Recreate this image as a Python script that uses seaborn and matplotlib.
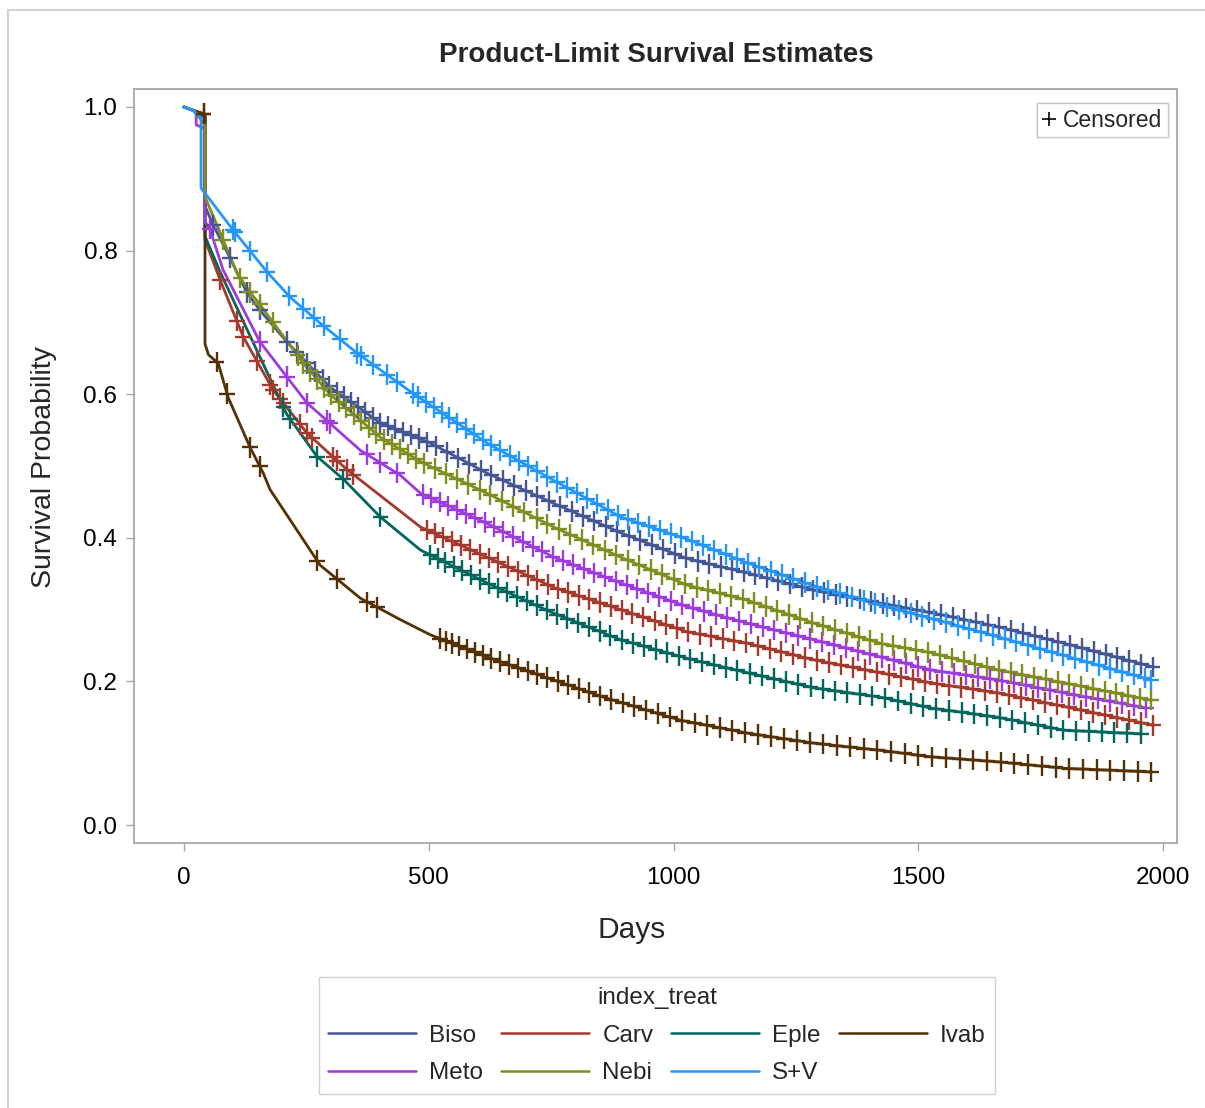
import numpy as np
import pandas as pd
import matplotlib
matplotlib.use("Agg")
import matplotlib.pyplot as plt
import seaborn as sns
from matplotlib.lines import Line2D
from matplotlib.path import Path

# data (days, survival) per treatment
treats = ["Biso", "Carv", "Eple", "Ivab", "Meto", "Nebi", "S+V"]
colors = ["#445694", "#A23A2E", "#01665E", "#543005", "#9D3CDB", "#7F8E1F", "#2597FA"]

biso_days = [0, 20, 43, 43, 60, 94, 128, 155, 210, 298, 401, 503, 619, 755, 892, 1028, 1151, 1287, 1423, 1546, 1663, 1798, 1980]
biso_surv = [1.0, 0.995, 0.985, 0.862, 0.835, 0.79, 0.742, 0.717, 0.673, 0.61, 0.56, 0.532, 0.49, 0.448, 0.407, 0.371, 0.351, 0.327, 0.309, 0.293, 0.276, 0.253, 0.22]

carv_days = [0, 20, 43, 43, 74, 121, 182, 251, 333, 483, 619, 755, 892, 1028, 1151, 1287, 1423, 1525, 1663, 1798, 1980]
carv_surv = [1.0, 0.995, 0.99, 0.815, 0.759, 0.68, 0.606, 0.546, 0.495, 0.415, 0.373, 0.331, 0.30, 0.269, 0.253, 0.23, 0.212, 0.198, 0.184, 0.165, 0.139]

eple_days = [0, 20, 43, 43, 74, 129, 210, 272, 325, 401, 483, 619, 755, 892, 1028, 1151, 1287, 1423, 1525, 1663, 1798, 1955]
eple_surv = [1.0, 0.995, 0.985, 0.82, 0.77, 0.69, 0.572, 0.513, 0.482, 0.429, 0.383, 0.337, 0.295, 0.258, 0.232, 0.212, 0.191, 0.178, 0.163, 0.15, 0.132, 0.127]

ivab_days = [0, 20, 43, 43, 50, 70, 90, 135, 162, 176, 278, 360, 442, 503, 619, 755, 857, 1014, 1151, 1287, 1423, 1525, 1663, 1798, 1975]
ivab_surv = [1.0, 0.995, 0.99, 0.67, 0.655, 0.643, 0.596, 0.526, 0.49, 0.467, 0.362, 0.316, 0.286, 0.265, 0.234, 0.202, 0.178, 0.146, 0.128, 0.114, 0.104, 0.095, 0.088, 0.079, 0.074]

meto_days = [0, 20, 25, 25, 43, 43, 53, 80, 155, 251, 360, 442, 483, 619, 755, 892, 1028, 1151, 1287, 1423, 1525, 1663, 1798, 1965]
meto_surv = [1.0, 0.995, 0.99, 0.975, 0.97, 0.84, 0.83, 0.773, 0.673, 0.588, 0.522, 0.487, 0.462, 0.42, 0.373, 0.337, 0.304, 0.281, 0.258, 0.234, 0.216, 0.202, 0.184, 0.163]

nebi_days = [0, 20, 43, 43, 80, 108, 135, 155, 182, 244, 298, 401, 483, 619, 755, 892, 1028, 1151, 1287, 1423, 1525, 1663, 1798, 1975]
nebi_surv = [1.0, 0.995, 0.975, 0.875, 0.815, 0.769, 0.742, 0.725, 0.70, 0.643, 0.60, 0.54, 0.506, 0.462, 0.415, 0.373, 0.334, 0.313, 0.281, 0.253, 0.24, 0.216, 0.198, 0.174]

sv_days = [0, 18, 35, 35, 100, 170, 217, 278, 354, 468, 503, 619, 755, 892, 1028, 1151, 1287, 1423, 1546, 1663, 1798, 1975]
sv_surv = [1.0, 0.995, 0.985, 0.887, 0.829, 0.770, 0.735, 0.699, 0.657, 0.601, 0.585, 0.532, 0.480, 0.429, 0.398, 0.365, 0.333, 0.306, 0.284, 0.262, 0.236, 0.202]

# censoring times (days)
biso_cens = [60, 94, 128, 155, 210, 230, 252, 268, 283, 297, 312, 326, 341, 356, 370, 386, 401, 417, 432, 448, 463, 480, 497, 515, 538, 560, 583, 607, 628, 652, 675, 698, 722, 745, 768, 792, 815, 838, 862, 885, 908, 932, 955, 978, 1002, 1025, 1050, 1073, 1096, 1120, 1143, 1167, 1190, 1214, 1238, 1262, 1285, 1308, 1332, 1355, 1380, 1403, 1427, 1450, 1474, 1497, 1522, 1546, 1570, 1594, 1618, 1642, 1665, 1690, 1714, 1738, 1762, 1786, 1810, 1834, 1858, 1882, 1906, 1930, 1955, 1978]
carv_cens = [40, 74, 108, 121, 149, 176, 182, 196, 203, 237, 251, 262, 305, 313, 333, 346, 497, 512, 530, 548, 566, 585, 604, 623, 642, 662, 682, 702, 722, 743, 764, 785, 806, 828, 850, 872, 894, 916, 938, 961, 984, 1007, 1030, 1053, 1077, 1100, 1124, 1148, 1172, 1196, 1220, 1244, 1268, 1293, 1317, 1342, 1366, 1391, 1415, 1440, 1464, 1489, 1513, 1538, 1562, 1587, 1611, 1636, 1660, 1685, 1709, 1734, 1758, 1783, 1807, 1832, 1856, 1881, 1905, 1930, 1955, 1980]
eple_cens = [203, 217, 272, 325, 401, 503, 518, 534, 551, 568, 586, 604, 622, 641, 660, 680, 700, 720, 741, 762, 783, 805, 827, 849, 871, 894, 917, 940, 963, 986, 1010, 1034, 1058, 1082, 1106, 1130, 1155, 1180, 1205, 1230, 1255, 1280, 1305, 1330, 1355, 1380, 1406, 1432, 1458, 1484, 1510, 1536, 1562, 1588, 1614, 1640, 1666, 1692, 1718, 1744, 1770, 1796, 1822, 1848, 1874, 1900, 1925, 1955]
ivab_cens = [40, 67, 88, 135, 155, 272, 313, 374, 395, 523, 535, 548, 562, 578, 594, 611, 628, 646, 664, 683, 702, 722, 742, 763, 784, 806, 828, 850, 873, 896, 920, 944, 968, 993, 1018, 1043, 1068, 1094, 1120, 1146, 1172, 1198, 1225, 1252, 1279, 1306, 1333, 1360, 1388, 1416, 1444, 1472, 1500, 1528, 1556, 1584, 1612, 1640, 1668, 1696, 1724, 1752, 1780, 1808, 1836, 1864, 1892, 1920, 1948, 1975]
meto_cens = [53, 155, 210, 251, 292, 298, 374, 401, 435, 489, 505, 522, 540, 558, 576, 595, 614, 633, 652, 672, 692, 712, 732, 753, 774, 795, 816, 838, 860, 882, 904, 926, 948, 971, 994, 1017, 1040, 1063, 1087, 1110, 1134, 1158, 1182, 1206, 1230, 1254, 1278, 1303, 1327, 1352, 1376, 1401, 1425, 1450, 1474, 1499, 1523, 1548, 1572, 1597, 1621, 1646, 1670, 1695, 1719, 1744, 1768, 1793, 1817, 1842, 1866, 1891, 1915, 1940, 1965]
nebi_cens = [80, 115, 135, 155, 182, 232, 244, 258, 272, 287, 300, 316, 331, 347, 362, 378, 393, 409, 425, 441, 457, 474, 490, 512, 535, 557, 580, 604, 626, 650, 673, 695, 720, 742, 766, 789, 812, 836, 860, 882, 906, 930, 953, 976, 1000, 1023, 1047, 1070, 1094, 1118, 1141, 1165, 1188, 1212, 1236, 1259, 1283, 1306, 1330, 1354, 1378, 1401, 1425, 1449, 1472, 1496, 1520, 1544, 1568, 1592, 1616, 1640, 1664, 1688, 1712, 1736, 1760, 1784, 1808, 1832, 1856, 1880, 1904, 1928, 1952, 1975]
sv_cens = [100, 104, 135, 170, 215, 244, 265, 285, 319, 354, 362, 387, 415, 435, 468, 478, 495, 510, 526, 542, 558, 575, 592, 610, 628, 646, 665, 684, 703, 722, 742, 762, 782, 802, 823, 844, 865, 886, 907, 928, 950, 972, 994, 1016, 1038, 1060, 1083, 1106, 1129, 1152, 1175, 1198, 1221, 1244, 1268, 1292, 1316, 1340, 1364, 1388, 1412, 1436, 1460, 1484, 1508, 1532, 1556, 1580, 1604, 1628, 1652, 1676, 1700, 1724, 1748, 1772, 1796, 1820, 1844, 1868, 1892, 1916, 1940, 1962, 1975]

curve_days = dict(zip(treats, [biso_days, carv_days, eple_days, ivab_days, meto_days, nebi_days, sv_days]))
curve_surv = dict(zip(treats, [biso_surv, carv_surv, eple_surv, ivab_surv, meto_surv, nebi_surv, sv_surv]))
cens_days = dict(zip(treats, [biso_cens, carv_cens, eple_cens, ivab_cens, meto_cens, nebi_cens, sv_cens]))
pal = dict(zip(treats, colors))

curves = pd.concat([pd.DataFrame({"treat": t, "day": curve_days[t], "surv": curve_surv[t]}) for t in treats], ignore_index=True)
# censor marks sit on their own curve
marks = pd.concat([pd.DataFrame({"treat": t, "day": cens_days[t],
                                 "surv": np.interp(cens_days[t], curve_days[t], curve_surv[t])}) for t in treats],
                  ignore_index=True)

# SAS-like "+" that is a bit taller than wide
tall_plus = Path([(-0.75, 0), (0.75, 0), (0, -1), (0, 1)],
                 [Path.MOVETO, Path.LINETO, Path.MOVETO, Path.LINETO])

sns.set_style("white")
plt.rcParams["font.family"] = ["Liberation Sans", "DejaVu Sans"]

fig = plt.figure(figsize=(12.05, 11.08), dpi=100)
ax = fig.add_axes([134 / 1205, 1 - 843 / 1108, (1177 - 134) / 1205, (843 - 89) / 1108])

sns.lineplot(data=curves, x="day", y="surv", hue="treat", palette=pal, estimator=None, sort=False,
             linewidth=2.0, legend=False, ax=ax)
sns.scatterplot(data=marks, x="day", y="surv", hue="treat", palette=pal, marker=tall_plus, s=220,
                linewidth=1.7, edgecolor="face", legend=False, ax=ax, zorder=3)

ax.set_xlim(-102, 2028)
ax.set_ylim(-0.025, 1.025)
ax.set_xticks([0, 500, 1000, 1500, 2000])
ax.set_yticks([0, 0.2, 0.4, 0.6, 0.8, 1.0])
ax.set_yticklabels(["0.0", "0.2", "0.4", "0.6", "0.8", "1.0"])
ax.set_xlabel("")
ax.set_ylabel("")
ax.tick_params(axis="both", direction="out", length=6, width=1, color="#A8A8A8", labelsize=17.5,
               labelcolor="black", bottom=True, left=True)
ax.tick_params(axis="x", pad=11)
ax.tick_params(axis="y", pad=6)
for sp in ax.spines.values():
    sp.set_color("#A8A8A8")
    sp.set_linewidth(1.3)

fig.text(656 / 1205, 1 - 55 / 1108, "Product-Limit Survival Estimates", ha="center", va="center",
         fontsize=20, fontweight="bold")
fig.text(44 / 1205, 1 - 467 / 1108, "Survival Probability", rotation=90, ha="center", va="center",
         fontsize=20.5)
fig.text(632 / 1205, 1 - 930 / 1108, "Days", ha="center", va="center", fontsize=21.5)

# censored legend inside the plot
cens_leg = ax.legend(handles=[Line2D([0], [0], marker="+", color="black", ls="None", ms=10, mew=1.2)],
                     labels=["Censored"], loc="upper right", bbox_to_anchor=((1168 - 134) / 1043, 1 - 14 / 754),
                     borderaxespad=0, fontsize=16.5, handlelength=0.6, handletextpad=0.3, borderpad=0.25,
                     fancybox=False, edgecolor="#C8C8C8", framealpha=1)
ax.add_artist(cens_leg)

# group legend below, filled column by column
order = ["Biso", "Meto", "Carv", "Nebi", "Eple", "S+V", "Ivab"]
handles = [Line2D([0], [0], color=pal[t], lw=1.8) for t in order]
fig.legend(handles, order, ncol=4, loc="upper center", bbox_to_anchor=(657 / 1205, 1 - 977 / 1108),
           borderaxespad=0, title="index_treat", fontsize=17.5, title_fontsize=17.5, handlelength=3.6,
           handletextpad=0.55, columnspacing=0.75, labelspacing=0.65, borderpad=0.4, fancybox=False,
           edgecolor="#D0D0D0", framealpha=1)

# light page border like the SAS output
fig.add_artist(Line2D([8 / 1205, 8 / 1205], [0, 1 - 10 / 1108], transform=fig.transFigure, color="#D3D3D3", lw=1.5))
fig.add_artist(Line2D([8 / 1205, 1], [1 - 10 / 1108, 1 - 10 / 1108], transform=fig.transFigure, color="#D3D3D3", lw=1.5))

fig.savefig("out.png", dpi=100, facecolor="white")
